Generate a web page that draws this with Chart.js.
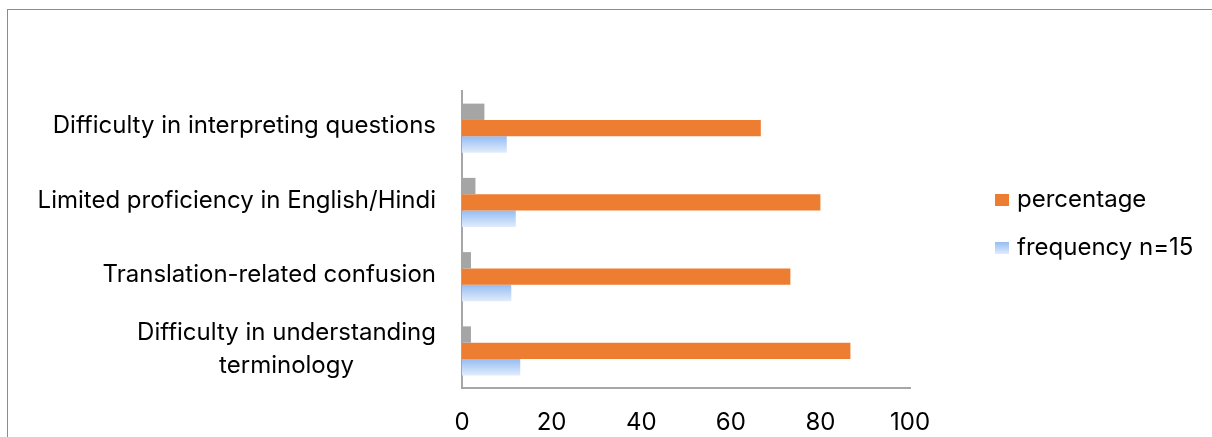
<!DOCTYPE html>
<html>
<head>
<meta charset="utf-8">
<script src="https://cdn.jsdelivr.net/npm/chart.js@4.4.1/dist/chart.umd.min.js"></script>
<style>
  html, body { margin: 0; padding: 0; background: #fff; overflow: hidden; }
  #wrap { position: relative; width: 1212px; height: 437px; }
  #frame {
    position: absolute; left: 7px; top: 9px; width: 1210px; height: 440px;
    border-left: 1px solid #8c8c8c; border-top: 1px solid #8c8c8c;
    pointer-events: none;
  }
</style>
</head>
<body>
<div id="wrap">
  <canvas id="chart" width="1212" height="437"></canvas>
  <div id="frame"></div>
</div>
<script>
// Chart data
const categories = [
    'Difficulty in interpreting questions',
    'Limited proficiency in English/Hindi',
    'Translation-related confusion',
    ['Difficulty in understanding', 'terminology']
];
const greyValues = [5, 3, 2, 2];
const percentageValues = [66.7, 80, 73.3, 86.7];
const frequencyValues = [10, 12, 11, 13];
const xTicks = [0, 20, 40, 60, 80, 100];
const legendLabels = ['percentage', 'frequency n=15'];

const FONT = 'Inter';
const CATEGORY_PCT = 0.66;

// Light blue gradient for each frequency bar (darker at the top)
function blueFill(context) {
    const chart = context.chart;
    const area = chart.chartArea;
    const ys = chart.scales.y;
    if (!area || !ys || context.type !== 'data') return '#a9c8f6';
    const centre = ys.getPixelForValue(context.dataIndex);
    const group = (area.bottom - area.top) / categories.length * CATEGORY_PCT;
    const top = centre + group / 6;
    const bottom = centre + group / 2;
    const g = chart.ctx.createLinearGradient(0, top, 0, bottom);
    g.addColorStop(0, '#95bcf3');
    g.addColorStop(1, '#e1ecfb');
    return g;
}

// Category labels: right aligned block, lines centred inside the block
const categoryLabels = {
    id: 'categoryLabels',
    afterDraw(chart) {
        const ctx = chart.ctx;
        const ys = chart.scales.y;
        const right = chart.chartArea.left - 26;
        const lineHeight = 33;
        ctx.save();
        ctx.font = '24px ' + FONT;
        ctx.fillStyle = '#000';
        ctx.textAlign = 'center';
        ctx.textBaseline = 'middle';
        categories.forEach((label, i) => {
            const lines = Array.isArray(label) ? label : [label];
            const widest = Math.max(...lines.map(l => ctx.measureText(l).width));
            const cx = right - widest / 2;
            const cy = ys.getPixelForValue(i) - 2;
            lines.forEach((line, j) => {
                ctx.fillText(line, cx, cy + (j - (lines.length - 1) / 2) * lineHeight);
            });
        });
        ctx.restore();
    }
};

// Legend on the right (grey series has no entry)
const sideLegend = {
    id: 'sideLegend',
    afterDraw(chart) {
        const ctx = chart.ctx;
        const area = chart.chartArea;
        const x = area.right + 85;
        const rows = [area.top + 109, area.top + 157];
        ctx.save();
        ctx.font = '24px ' + FONT;
        ctx.textBaseline = 'middle';
        ctx.textAlign = 'left';
        rows.forEach((y, i) => {
            if (i === 0) {
                ctx.fillStyle = '#ed7d31';
            } else {
                const g = ctx.createLinearGradient(0, y - 6, 0, y + 6);
                g.addColorStop(0, '#95bcf3');
                g.addColorStop(1, '#e1ecfb');
                ctx.fillStyle = g;
            }
            ctx.fillRect(x, y - 6, 14, 12);
            ctx.fillStyle = '#000';
            ctx.fillText(legendLabels[i], x + 22, y);
        });
        ctx.restore();
    }
};

const ctx = document.getElementById('chart').getContext('2d');
const chart = new Chart(ctx, {
    type: 'bar',
    data: {
        labels: categories,
        datasets: [
            {
                label: 'grey',
                data: greyValues,
                backgroundColor: '#a5a5a5'
            },
            {
                label: legendLabels[0],
                data: percentageValues,
                backgroundColor: '#ed7d31'
            },
            {
                label: legendLabels[1],
                data: frequencyValues,
                backgroundColor: blueFill
            }
        ]
    },
    options: {
        indexAxis: 'y',
        responsive: false,
        animation: false,
        devicePixelRatio: 1,
        categoryPercentage: CATEGORY_PCT,
        barPercentage: 1,
        layout: {
            padding: { top: 91, left: 462, right: 302, bottom: 0 }
        },
        plugins: {
            legend: { display: false },
            tooltip: { enabled: false }
        },
        scales: {
            y: {
                type: 'category',
                grid: { display: false },
                ticks: { display: false },
                border: { color: '#a6a6a6', width: 2 },
                afterFit: s => { s.width = 0; }
            },
            x: {
                min: 0,
                max: 100,
                grid: { display: false, drawTicks: false },
                border: { color: '#a6a6a6', width: 2 },
                ticks: {
                    color: '#000',
                    padding: 20,
                    font: { family: FONT, size: 24 }
                },
                afterBuildTicks: s => { s.ticks = xTicks.map(v => ({ value: v })); },
                afterFit: s => { s.height = 49; }
            }
        }
    },
    plugins: [categoryLabels, sideLegend]
});
</script>
</body>
</html>
